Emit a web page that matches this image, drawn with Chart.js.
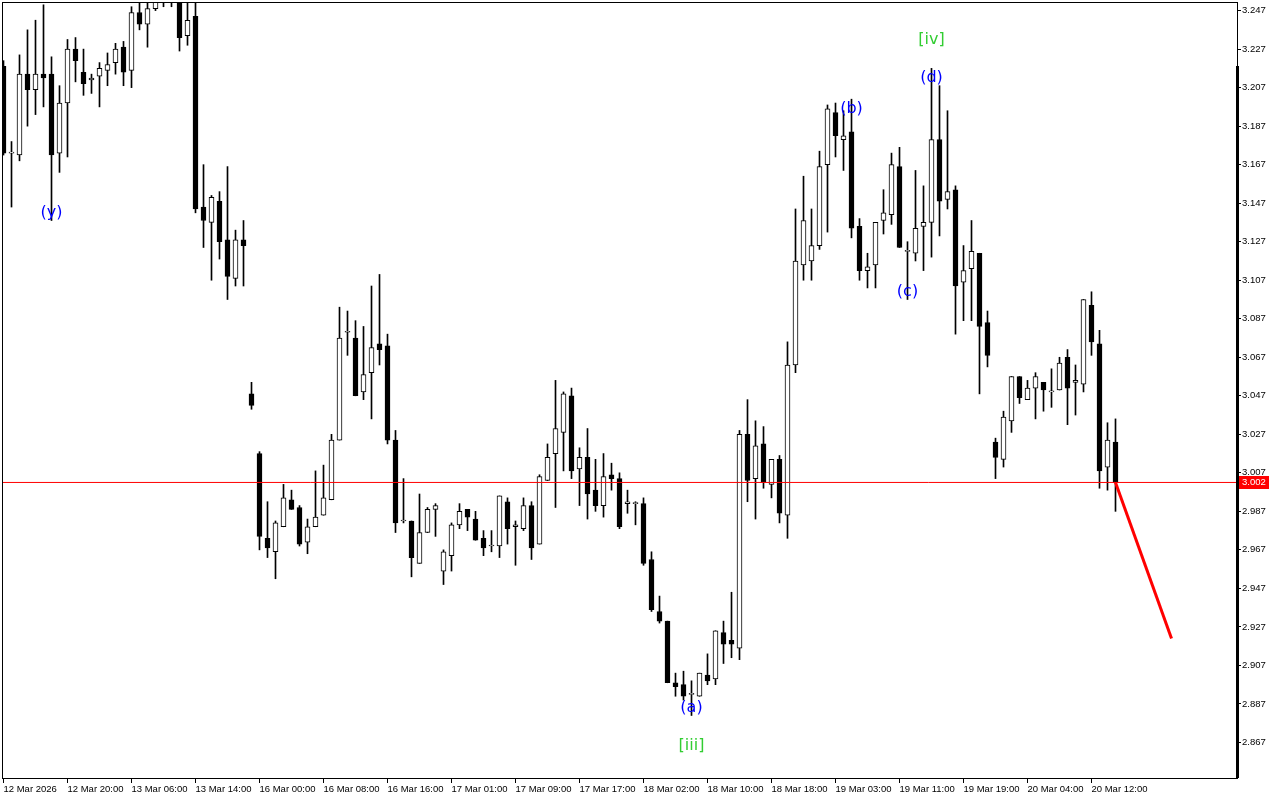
<!DOCTYPE html>
<html>
<head>
<meta charset="utf-8">
<title>H1 chart</title>
<script src="https://cdn.jsdelivr.net/npm/chart.js@4.4.1/dist/chart.umd.min.js"></script>
<style>
  html, body { margin: 0; padding: 0; background: #ffffff; }
  canvas { display: block; }
</style>
</head>
<body>
<canvas id="candleChart" width="1280" height="800"></canvas>
<script>

// hourly bars
var opens = [
  3.218, 3.173, 3.172, 3.214, 3.206, 3.214, 3.214, 3.173, 3.199, 3.227,
  3.215, 3.211, 3.213, 3.216, 3.220, 3.228, 3.216, 3.246, 3.240, 3.248,
  3.258, 3.262, 3.256, 3.234, 3.244, 3.145, 3.137, 3.148, 3.128, 3.108,
  3.128, 3.048, 3.017, 2.973, 2.966, 2.979, 2.993, 2.989, 2.971, 2.979,
  2.985, 2.993, 3.024, 3.080, 3.077, 3.049, 3.059, 3.074, 3.073, 3.024,
  2.982, 2.982, 2.960, 2.976, 2.988, 2.956, 2.964, 2.980, 2.988, 2.983,
  2.973, 2.969, 2.969, 2.992, 2.979, 2.978, 2.990, 2.970, 3.003, 3.017,
  3.028, 3.047, 3.009, 3.015, 2.998, 2.990, 3.006, 3.004, 2.991, 2.991,
  2.991, 2.962, 2.935, 2.930, 2.898, 2.897, 2.892, 2.891, 2.902, 2.900,
  2.924, 2.920, 2.916, 3.027, 3.004, 3.022, 3.001, 3.014, 2.985, 3.063,
  3.115, 3.117, 3.125, 3.167, 3.194, 3.180, 3.184, 3.135, 3.112, 3.115,
  3.138, 3.141, 3.166, 3.122, 3.121, 3.135, 3.137, 3.180, 3.149, 3.154,
  3.106, 3.113, 3.121, 3.085, 3.023, 3.014, 3.034, 3.057, 3.045, 3.051,
  3.054, 3.049, 3.050, 3.067, 3.054, 3.053, 3.094, 3.074, 3.010, 3.023
];
var highs = [
  3.221, 3.179, 3.224, 3.237, 3.242, 3.250, 3.223, 3.208, 3.232, 3.233,
  3.227, 3.214, 3.220, 3.225, 3.230, 3.231, 3.249, 3.254, 3.256, 3.262,
  3.266, 3.266, 3.260, 3.255, 3.254, 3.167, 3.151, 3.153, 3.166, 3.133,
  3.138, 3.054, 3.018, 2.992, 2.982, 3.001, 2.998, 2.990, 2.983, 3.008,
  3.011, 3.027, 3.093, 3.091, 3.086, 3.083, 3.104, 3.110, 3.079, 3.029,
  3.004, 2.982, 2.996, 2.989, 2.991, 2.967, 2.981, 2.991, 2.988, 2.987,
  2.977, 2.977, 2.995, 2.994, 2.982, 2.994, 2.992, 3.006, 3.022, 3.055,
  3.049, 3.051, 3.020, 3.030, 3.014, 3.017, 3.012, 3.007, 2.998, 2.992,
  2.994, 2.966, 2.943, 2.930, 2.903, 2.904, 2.899, 2.903, 2.913, 2.925,
  2.930, 2.945, 3.029, 3.045, 3.034, 3.031, 3.014, 3.016, 3.075, 3.144,
  3.161, 3.144, 3.174, 3.198, 3.199, 3.195, 3.201, 3.139, 3.121, 3.137,
  3.154, 3.173, 3.176, 3.127, 3.164, 3.156, 3.217, 3.208, 3.195, 3.156,
  3.125, 3.138, 3.121, 3.091, 3.025, 3.039, 3.057, 3.057, 3.055, 3.059,
  3.054, 3.061, 3.067, 3.071, 3.063, 3.097, 3.101, 3.081, 3.033, 3.035
];
var lows = [
  3.172, 3.145, 3.169, 3.187, 3.193, 3.197, 3.138, 3.163, 3.171, 3.210,
  3.203, 3.204, 3.197, 3.208, 3.214, 3.208, 3.207, 3.237, 3.228, 3.247,
  3.249, 3.249, 3.226, 3.229, 3.142, 3.124, 3.107, 3.118, 3.097, 3.104,
  3.104, 3.040, 2.967, 2.963, 2.952, 2.979, 2.988, 2.969, 2.965, 2.979,
  2.985, 2.993, 3.024, 3.068, 3.047, 3.045, 3.035, 3.063, 3.022, 2.976,
  2.981, 2.953, 2.960, 2.976, 2.974, 2.949, 2.956, 2.978, 2.977, 2.972,
  2.964, 2.966, 2.963, 2.970, 2.959, 2.977, 2.962, 2.970, 3.003, 2.989,
  3.008, 3.004, 2.990, 2.983, 2.987, 2.984, 2.998, 2.978, 2.986, 2.980,
  2.959, 2.935, 2.929, 2.898, 2.891, 2.889, 2.881, 2.891, 2.897, 2.897,
  2.908, 2.911, 2.910, 2.992, 2.983, 2.999, 2.994, 2.981, 2.973, 3.059,
  3.107, 3.107, 3.123, 3.132, 3.171, 3.164, 3.129, 3.107, 3.103, 3.103,
  3.131, 3.136, 3.124, 3.097, 3.117, 3.112, 3.119, 3.130, 3.144, 3.079,
  3.086, 3.086, 3.048, 3.062, 3.004, 3.010, 3.028, 3.043, 3.045, 3.035,
  3.039, 3.041, 3.050, 3.032, 3.037, 3.049, 3.068, 2.999, 2.998, 2.987
];
var closes = [
  3.173, 3.173, 3.214, 3.206, 3.214, 3.212, 3.172, 3.199, 3.227, 3.221,
  3.209, 3.212, 3.217, 3.219, 3.227, 3.215, 3.246, 3.240, 3.248, 3.258,
  3.262, 3.257, 3.233, 3.242, 3.144, 3.138, 3.150, 3.127, 3.109, 3.128,
  3.125, 3.042, 2.974, 2.968, 2.981, 2.994, 2.988, 2.970, 2.979, 2.984,
  2.994, 3.024, 3.077, 3.080, 3.047, 3.058, 3.072, 3.071, 3.024, 2.981,
  2.982, 2.963, 2.976, 2.988, 2.990, 2.966, 2.980, 2.987, 2.984, 2.972,
  2.968, 2.969, 2.995, 2.978, 2.980, 2.990, 2.968, 3.005, 3.015, 3.030,
  3.048, 3.008, 3.015, 2.996, 2.990, 3.005, 3.004, 2.979, 2.992, 2.991,
  2.960, 2.936, 2.930, 2.898, 2.896, 2.891, 2.892, 2.903, 2.899, 2.925,
  2.918, 2.918, 3.027, 3.003, 3.021, 3.002, 3.014, 2.986, 3.063, 3.117,
  3.138, 3.125, 3.166, 3.196, 3.182, 3.182, 3.134, 3.112, 3.114, 3.137,
  3.142, 3.167, 3.124, 3.122, 3.134, 3.137, 3.180, 3.148, 3.153, 3.104,
  3.112, 3.122, 3.083, 3.068, 3.015, 3.036, 3.057, 3.046, 3.051, 3.057,
  3.050, 3.049, 3.064, 3.051, 3.055, 3.097, 3.075, 3.008, 3.024, 3.002
];

// one time label every 8 bars
var timeLabels = [
  '12 Mar 2026', '12 Mar 20:00', '13 Mar 06:00', '13 Mar 14:00', '16 Mar 00:00',
  '16 Mar 08:00', '16 Mar 16:00', '17 Mar 01:00', '17 Mar 09:00', '17 Mar 17:00',
  '18 Mar 02:00', '18 Mar 10:00', '18 Mar 18:00', '19 Mar 03:00', '19 Mar 11:00',
  '19 Mar 19:00', '20 Mar 04:00', '20 Mar 12:00'
];
var barsPerLabel = 8;

var priceTicks = [
  3.247, 3.227, 3.207, 3.187, 3.167, 3.147, 3.127, 3.107, 3.087, 3.067,
  3.047, 3.027, 3.007, 2.987, 2.967, 2.947, 2.927, 2.907, 2.887, 2.867
];

// wave marks
var waveText  = ['(y)', '[iv]', '(d)', '(b)', '(c)', '(a)', '[iii]'];
var waveBar   = [6, 116, 116, 106, 113, 86, 86];
var wavePrice = [3.142, 3.232, 3.212, 3.196, 3.101, 2.885, 2.865];

// forecast line
var projBar   = [139, 146];
var projPrice = [3.002, 2.921];

var lastPrice = closes[closes.length - 1];
var scaleMarkTop = 3.218;

// axis window
var xMin = -0.1875;
var xMax = 154.1875;
var yMax = 3.25146;
var yMin = 2.84855;

var bodyData = [];
var wickData = [];
var bodyColors = [];
for (var i = 0; i < opens.length; i++) {
  bodyData.push({ x: i, y: [opens[i], closes[i]] });
  wickData.push({ x: i, y: [lows[i], highs[i]] });
  if (closes[i] >= opens[i]) {
    bodyColors.push('#ffffff');
  } else {
    bodyColors.push('#000000');
  }
}

var projData = [];
for (var k = 0; k < projBar.length; k++) {
  projData.push({ x: projBar[k], y: projPrice[k] });
}

var tickFont = { family: '"Liberation Sans", Arial, sans-serif', size: 9.5 };

var overlay = {
  id: 'overlay',
  afterDatasetsDraw: function (chart) {
    var ctx = chart.ctx;
    var xs = chart.scales.x;
    var ys = chart.scales.y;
    ctx.save();
    ctx.font = '16px "DejaVu Sans"';
    ctx.textAlign = 'center';
    ctx.textBaseline = 'middle';
    for (var n = 0; n < waveText.length; n++) {
      ctx.fillStyle = waveText[n].charAt(0) == '[' ? '#32cd32' : '#0000ff';
      ctx.fillText(waveText[n], xs.getPixelForValue(waveBar[n]), ys.getPixelForValue(wavePrice[n]));
    }
    ctx.restore();
  },
  afterDraw: function (chart) {
    var ctx = chart.ctx;
    var area = chart.chartArea;
    var ys = chart.scales.y;
    ctx.save();
    // frame
    ctx.strokeStyle = '#000000';
    ctx.lineWidth = 1;
    ctx.strokeRect(area.left + 0.5, area.top + 0.5, area.right - area.left, area.bottom - area.top);
    // thick mark on the price scale edge
    var top = Math.round(ys.getPixelForValue(scaleMarkTop));
    ctx.fillStyle = '#000000';
    ctx.fillRect(area.right - 1, top, 3, area.bottom - top);
    // current price tag
    var py = Math.floor(ys.getPixelForValue(lastPrice));
    ctx.fillStyle = '#ff0000';
    ctx.fillRect(area.right + 2, py - 6, 30, 13);
    ctx.fillStyle = '#ffffff';
    ctx.font = '9.5px "Liberation Sans", Arial, sans-serif';
    ctx.textAlign = 'left';
    ctx.textBaseline = 'middle';
    ctx.fillText(lastPrice.toFixed(3), area.right + 5, py + 0.5);
    ctx.restore();
  }
};

var config = {
  type: 'bar',
  data: {
    datasets: [
      {
        type: 'line',
        data: [{ x: xMin, y: lastPrice }, { x: xMax, y: lastPrice }],
        borderColor: '#ff0000',
        borderWidth: 1,
        pointRadius: 0,
        fill: false,
        order: 0
      },
      {
        type: 'line',
        data: projData,
        borderColor: '#ff0000',
        borderWidth: 3,
        pointRadius: 0,
        fill: false,
        order: 0
      },
      {
        data: bodyData,
        backgroundColor: bodyColors,
        borderColor: '#000000',
        borderWidth: 1,
        borderSkipped: false,
        barThickness: 5,
        minBarLength: 1,
        grouped: false,
        order: 1
      },
      {
        data: wickData,
        backgroundColor: '#000000',
        borderWidth: 0,
        barThickness: 1,
        grouped: false,
        order: 2
      }
    ]
  },
  options: {
    responsive: false,
    animation: false,
    events: [],
    layout: { padding: { left: 2, top: 2, right: 0, bottom: 0 } },
    plugins: {
      legend: { display: false },
      tooltip: { enabled: false }
    },
    scales: {
      x: {
        type: 'linear',
        min: xMin,
        max: xMax,
        offset: false,
        grid: { drawOnChartArea: false, offset: false, tickLength: 5, tickColor: '#000000' },
        border: { color: '#000000', width: 1 },
        ticks: {
          autoSkip: false,
          maxRotation: 0,
          align: 'start',
          padding: 1,
          color: '#000000',
          font: tickFont,
          callback: function (value, index) {
            return timeLabels[index];
          }
        },
        afterBuildTicks: function (axis) {
          axis.ticks = timeLabels.map(function (t, k) {
            return { value: k * barsPerLabel };
          });
        },
        afterFit: function (axis) {
          axis.height = 22;
          axis.paddingLeft = 0;
          axis.paddingRight = 0;
        }
      },
      y: {
        type: 'linear',
        position: 'right',
        min: yMin,
        max: yMax,
        grid: { drawOnChartArea: false, tickLength: 4, tickColor: '#000000' },
        border: { color: '#000000', width: 1 },
        ticks: {
          autoSkip: false,
          padding: 1,
          color: '#000000',
          font: tickFont,
          callback: function (value) {
            return Number(value).toFixed(3);
          }
        },
        afterBuildTicks: function (axis) {
          axis.ticks = priceTicks.map(function (v) {
            return { value: v };
          });
        },
        afterFit: function (axis) {
          axis.width = 43;
          axis.paddingTop = 0;
          axis.paddingBottom = 0;
        }
      }
    }
  },
  plugins: [overlay]
};

var chartCandles = new Chart(document.getElementById('candleChart'), config);
</script>
</body>
</html>
